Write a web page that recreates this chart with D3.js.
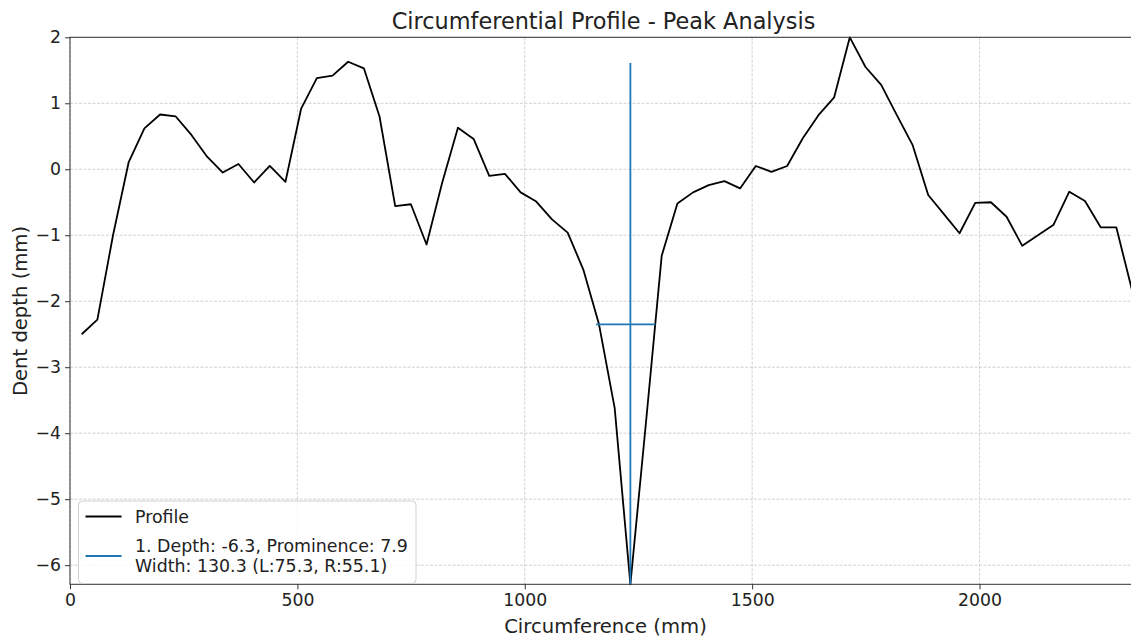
<!DOCTYPE html>
<head>
  <meta charset="utf-8">
  <title>Circumferential Profile</title>
  <script src="https://cdn.jsdelivr.net/npm/d3@7"></script>
  <style>
    body { margin: 0; background: #fff; }
    text { font-family: "DejaVu Sans", sans-serif; fill: #222; }
  </style>
</head>
<body>
  <svg width="1131" height="641"></svg>

  <script>

  // circumference positions (mm) and dent depth (mm)
  var circumference = [25.7, 60.2, 94.6, 129.1, 163.6, 198.1, 232.5, 267.0, 301.5, 335.9,
    370.4, 404.9, 439.3, 473.8, 508.3, 542.8, 577.2, 611.7, 646.2, 680.6,
    715.1, 749.6, 784.0, 818.5, 853.0, 887.5, 921.9, 956.4, 990.9, 1025.3,
    1059.8, 1094.3, 1128.7, 1163.2, 1197.7, 1232.2, 1266.6, 1301.1, 1335.6, 1370.0,
    1404.5, 1439.0, 1473.4, 1507.9, 1542.4, 1576.9, 1611.3, 1645.8, 1680.3, 1714.7,
    1749.2, 1783.7, 1818.1, 1852.6, 1887.1, 1921.6, 1956.0, 1990.5, 2025.0, 2059.4,
    2093.9, 2128.4, 2162.8, 2197.3, 2231.8, 2266.3, 2300.7, 2335.2];
  var depth = [-2.50, -2.28, -1.00, 0.11, 0.62, 0.83, 0.80, 0.52, 0.19, -0.05,
    0.08, -0.20, 0.05, -0.19, 0.92, 1.38, 1.42, 1.63, 1.53, 0.80,
    -0.56, -0.53, -1.14, -0.20, 0.63, 0.46, -0.10, -0.07, -0.35, -0.49,
    -0.76, -0.96, -1.52, -2.35, -3.62, -6.29, -3.83, -1.31, -0.52, -0.35,
    -0.24, -0.18, -0.29, 0.05, -0.04, 0.05, 0.47, 0.82, 1.09, 2.00,
    1.55, 1.28, 0.82, 0.37, -0.39, -0.68, -0.97, -0.51, -0.50, -0.72,
    -1.16, -1.00, -0.84, -0.34, -0.48, -0.88, -0.88, -1.83];

  // detected peak
  var peakX = [1232.2];
  var peakDepth = [-6.29];
  var peakProminence = [7.9];
  var widthHeight = [-2.35];
  var widthLeft = [1156.9];
  var widthRight = [1287.3];
  var legendLabels = ["Profile", "1. Depth: -6.3, Prominence: 7.9", "Width: 130.3 (L:75.3, R:55.1)"];

  var xTicks = [0, 500, 1000, 1500, 2000];
  var yTicks = [-6, -5, -4, -3, -2, -1, 0, 1, 2];

  var svg = d3.select("svg"),
      margin = {left: 70, right: 1132, top: 37.3, bottom: 584.3};

  var x = d3.scaleLinear()
      .domain([0, 2335.2])
      .range([margin.left, margin.right]);
  var y = d3.scaleLinear()
      .domain([d3.min(depth), d3.max(depth)])
      .range([margin.bottom, margin.top]);

  var fmt = function(d) { return d < 0 ? "\u2212" + Math.abs(d) : "" + d; };

  // grid
  var grid = svg.append("g").attr("class", "grid");
  grid.selectAll("line.gx")
    .data(xTicks)
    .enter().append("line")
      .attr("x1", function(d) { return x(d); })
      .attr("x2", function(d) { return x(d); })
      .attr("y1", margin.top)
      .attr("y2", margin.bottom)
      .attr("stroke", "#b0b0b0")
      .attr("stroke-width", 0.8)
      .attr("stroke-dasharray", "3,1.5")
      .attr("opacity", 0.7);
  grid.selectAll("line.gy")
    .data(yTicks)
    .enter().append("line")
      .attr("x1", margin.left)
      .attr("x2", margin.right)
      .attr("y1", function(d) { return y(d); })
      .attr("y2", function(d) { return y(d); })
      .attr("stroke", "#b0b0b0")
      .attr("stroke-width", 0.8)
      .attr("stroke-dasharray", "3,1.5")
      .attr("opacity", 0.7);

  // profile line
  var pts = circumference.map(function(c, i) { return [c, depth[i]]; });
  var line = d3.line()
      .x(function(d) { return x(d[0]); })
      .y(function(d) { return y(d[1]); });

  svg.append("path")
      .datum(pts)
      .attr("d", line)
      .attr("fill", "none")
      .attr("stroke", "#000")
      .attr("stroke-width", 1.8)
      .attr("stroke-linejoin", "round");

  // peak markers
  svg.append("line")
      .attr("x1", x(peakX[0])).attr("x2", x(peakX[0]))
      .attr("y1", y(peakDepth[0])).attr("y2", y(peakDepth[0] + peakProminence[0]))
      .attr("stroke", "#1f77b4")
      .attr("stroke-width", 1.8);
  svg.append("line")
      .attr("x1", x(widthLeft[0])).attr("x2", x(widthRight[0]))
      .attr("y1", y(widthHeight[0])).attr("y2", y(widthHeight[0]))
      .attr("stroke", "#1f77b4")
      .attr("stroke-width", 1.8);

  // axes
  var xAxis = svg.append("g")
      .attr("transform", "translate(0," + margin.bottom + ")")
      .call(d3.axisBottom(x).tickValues(xTicks).tickFormat(fmt).tickSizeOuter(0).tickSize(5).tickPadding(4));
  var yAxis = svg.append("g")
      .attr("transform", "translate(" + margin.left + ",0)")
      .call(d3.axisLeft(y).tickValues(yTicks).tickFormat(fmt).tickSizeOuter(0).tickSize(5).tickPadding(4));
  [xAxis, yAxis].forEach(function(a) {
    a.select(".domain").remove();
    a.selectAll(".tick line").attr("stroke", "#333").attr("stroke-width", 1);
    a.selectAll(".tick text").attr("font-size", 17.3).attr("fill", "#222")
      .attr("font-family", "DejaVu Sans, sans-serif");
  });

  // spines
  svg.append("rect")
      .attr("x", margin.left)
      .attr("y", margin.top)
      .attr("width", margin.right - margin.left)
      .attr("height", margin.bottom - margin.top)
      .attr("fill", "none")
      .attr("stroke", "#333")
      .attr("stroke-width", 1);

  // titles
  svg.append("text")
      .attr("x", 603.5)
      .attr("y", 29)
      .attr("text-anchor", "middle")
      .attr("font-size", 22.4)
      .text("Circumferential Profile - Peak Analysis");
  svg.append("text")
      .attr("x", 605.5)
      .attr("y", 632.5)
      .attr("text-anchor", "middle")
      .attr("font-size", 19.6)
      .text("Circumference (mm)");
  svg.append("text")
      .attr("transform", "translate(26.5,311) rotate(-90)")
      .attr("text-anchor", "middle")
      .attr("font-size", 19.6)
      .text("Dent depth (mm)");

  // legend
  var lg = svg.append("g").attr("transform", "translate(78.5,501)");
  lg.append("rect")
      .attr("width", 337.5)
      .attr("height", 82.5)
      .attr("rx", 4)
      .attr("fill", "#fff")
      .attr("fill-opacity", 0.8)
      .attr("stroke", "#d0d0d0");
  lg.append("line")
      .attr("x1", 7).attr("x2", 43).attr("y1", 15.5).attr("y2", 15.5)
      .attr("stroke", "#000").attr("stroke-width", 1.8);
  lg.append("line")
      .attr("x1", 7).attr("x2", 43).attr("y1", 55).attr("y2", 55)
      .attr("stroke", "#1f77b4").attr("stroke-width", 1.8);
  lg.selectAll("text.lab")
    .data(legendLabels)
    .enter().append("text")
      .attr("x", 56.5)
      .attr("y", function(d, i) { return [21.5, 50.5, 70.5][i]; })
      .attr("font-size", 17.4)
      .text(function(d) { return d; });

  </script>
</body>
